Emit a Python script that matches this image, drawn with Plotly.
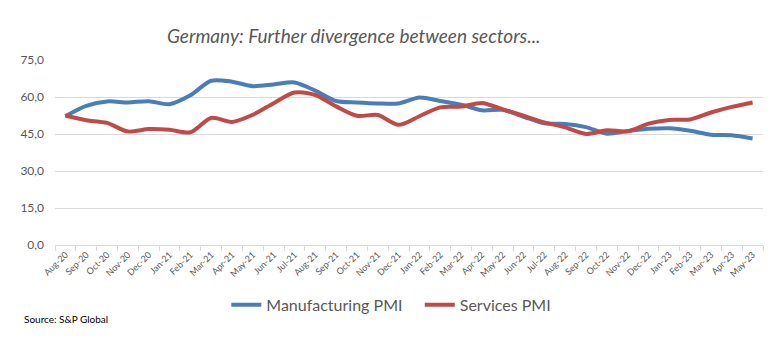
import plotly.graph_objects as go

months = ["Aug-20","Sep-20","Oct-20","Nov-20","Dec-20",
          "Jan-21","Feb-21","Mar-21","Apr-21","May-21","Jun-21","Jul-21","Aug-21","Sep-21","Oct-21","Nov-21","Dec-21",
          "Jan-22","Feb-22","Mar-22","Apr-22","May-22","Jun-22","Jul-22","Aug-22","Sep-22","Oct-22","Nov-22","Dec-22",
          "Jan-23","Feb-23","Mar-23","Apr-23","May-23"]
manufacturing = [52.2,56.4,58.2,57.8,58.3,57.1,60.7,66.6,66.2,64.4,65.1,65.9,62.6,58.4,57.8,57.4,57.4,
                 59.8,58.4,56.9,54.6,54.8,52.0,49.3,49.1,47.8,45.1,46.2,47.1,47.3,46.3,44.7,44.5,43.2]
services = [52.5,50.6,49.5,46.0,47.0,46.7,45.7,51.5,49.9,52.8,57.5,61.8,60.8,56.2,52.4,52.7,48.7,
            52.2,55.8,56.1,57.6,55.0,52.4,49.7,47.7,45.0,46.5,46.1,49.2,50.7,50.9,53.7,56.0,57.8]
y_ticks = [0, 15, 30, 45, 60, 75]
y_labels = ["0,0", "15,0", "30,0", "45,0", "60,0", "75,0"]

fig = go.Figure()
fig.add_trace(go.Scatter(x=months, y=manufacturing, mode="lines", name="Manufacturing PMI   ",
                         line=dict(color="#4a7ebb", width=4, shape="spline", smoothing=0.8)))
fig.add_trace(go.Scatter(x=months, y=services, mode="lines", name="Services PMI",
                         line=dict(color="#be4b48", width=4, shape="spline", smoothing=0.8)))

fig.update_layout(
    width=783, height=341,
    margin=dict(l=55, r=20, t=60, b=96),
    paper_bgcolor="white", plot_bgcolor="white",
    font=dict(family="Lato, Open Sans, sans-serif", color="#595959"),
    showlegend=True,
    legend=dict(orientation="h", x=0.475, xanchor="center", y=-0.324, yanchor="middle",
                font=dict(size=16, color="#595959"), itemwidth=30, bgcolor="rgba(0,0,0,0)"),
    xaxis=dict(type="category", showgrid=False, showline=True, linecolor="#d9d9d9", linewidth=1,
               ticks="outside", tickson="boundaries", ticklen=5, tickcolor="#d9d9d9",
               tickangle=-45, tickfont=dict(size=9, color="#595959"), range=[-0.5, len(months)-0.5]),
    yaxis=dict(range=[0, 75], tickvals=y_ticks, ticktext=y_labels, showgrid=True, gridcolor="#d9d9d9",
               gridwidth=1, zeroline=False, showline=False, tickfont=dict(size=12, color="#595959"),
               ticks="", ticklabelstandoff=10),
    annotations=[
        dict(text="<i>Germany: Further divergence between sectors...</i>", xref="paper", yref="paper",
             x=0.422, y=1.135, xanchor="center", yanchor="middle", showarrow=False,
             font=dict(size=19, color="#595959")),
        dict(text="Source: S&P Global", xref="paper", yref="paper", x=-0.0466, y=-0.4,
             xanchor="left", yanchor="middle", showarrow=False, font=dict(size=10, color="black")),
    ],
)

fig.write_html("out.html")
